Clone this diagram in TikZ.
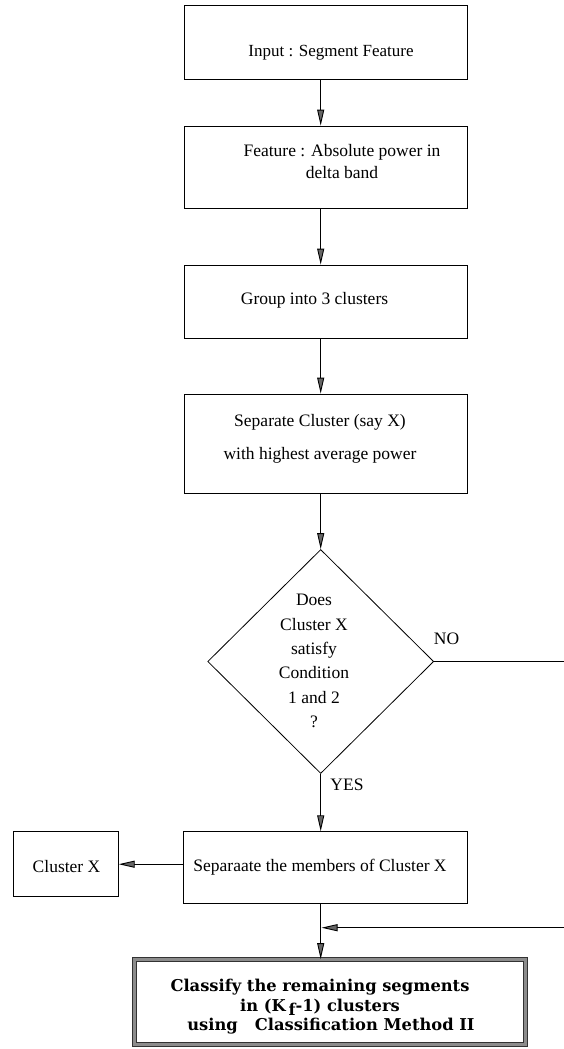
\documentclass[tikz,border=0pt]{standalone}
\usepackage{fontspec}
\setmainfont{Liberation Serif}
\newfontfamily\boldserif{DejaVu Serif}
\usetikzlibrary{arrows.meta,shapes.geometric}
\begin{document}
\begin{tikzpicture}[x=1pt,y=-1pt,
  box/.style={draw, line width=0.8pt, inner sep=0pt},
  lbl/.style={font=\rmfamily\fontsize{17.5}{24}\selectfont, inner sep=0pt, align=center},
  arr/.style={line width=0.9pt, -{Triangle[length=16pt,width=7pt,fill=black!60]}},
  finalbox/.style={draw=black!80, line width=0.8pt, double=black!45, double distance=3.6pt, inner sep=0pt},
  boldlbl/.style={font=\boldserif\bfseries\fontsize{16.3}{19.5}\selectfont, inner sep=0pt, align=center}
]
\fill[white] (0,0) rectangle (563,1049);
\useasboundingbox (0,0) rectangle (563,1049);

% process boxes
\node[box, minimum width=283pt, minimum height=74pt] (b1) at (325.5,42) {};
\node[lbl, font=\rmfamily\fontsize{17}{24}\selectfont] (t1) at (331,53) {Input : Segment Feature};

\node[box, minimum width=283pt, minimum height=82pt] (b2) at (325.5,167) {};
\node[lbl, font=\rmfamily\fontsize{17.5}{22}\selectfont] (t2) at (342,162) {Feature : Absolute power in\\delta band};

\node[box, minimum width=283pt, minimum height=73pt] (b3) at (325.5,301.5) {};
\node[lbl] (t3) at (314.5,300) {Group into 3 clusters};

\node[box, minimum width=283pt, minimum height=99pt] (b4) at (325.5,443.5) {};
\node[lbl, font=\rmfamily\fontsize{17.5}{33}\selectfont] (t4) at (320,438.5) {Separate Cluster (say X)\\with highest average power};

% decision
\node[draw, diamond, line width=0.8pt, inner sep=0pt, minimum width=226pt, minimum height=224pt] (dia) at (320.7,661.5) {};
\node[lbl, font=\rmfamily\fontsize{17.5}{24.4}\selectfont] (t5) at (314,661) {Does\\Cluster X\\satisfy\\Condition\\1 and 2\hspace{14pt}\\?};
\node[lbl] (no) at (446.5,639) {NO};
\node[lbl] (yes) at (347,785) {YES};

% outcome boxes
\node[box, minimum width=284pt, minimum height=71.6pt] (b5) at (324.9,867.5) {};
\node[lbl] (t6) at (320,866.7) {Separaate the members of Cluster X};

\node[box, minimum width=105pt, minimum height=65pt] (cx) at (65.8,864.2) {};
\node[lbl] (t7) at (66.5,866.7) {Cluster X};

\node[finalbox, minimum width=391pt, minimum height=85pt] (fin) at (330,1002) {};
\node[boldlbl] (t8) at (320,1007) {Classify the remaining segments\\in (K\,\raisebox{-0.45ex}{f}-1) clusters\hspace{22pt}\\\hspace{22pt}using~~~Classification Method II};

% connectors
\coordinate (join) at (321.5,927.7);
\draw[arr] (b1.south -| dia.center) -- (b2.north -| dia.center);
\draw[arr] (b2.south -| dia.center) -- (b3.north -| dia.center);
\draw[arr] (b3.south -| dia.center) -- (b4.north -| dia.center);
\draw[arr] (b4.south -| dia.center) -- (dia.north);
\draw[arr] (dia.south) -- (b5.north -| dia.center);
\draw[arr] (b5.west |- cx.east) -- (cx.east);
\draw[arr] (b5.south -| dia.center) -- (fin.north -| dia.center);
\draw[arr] (dia.east) -- ++(160,0) |- (join);
\end{tikzpicture}
\end{document}
